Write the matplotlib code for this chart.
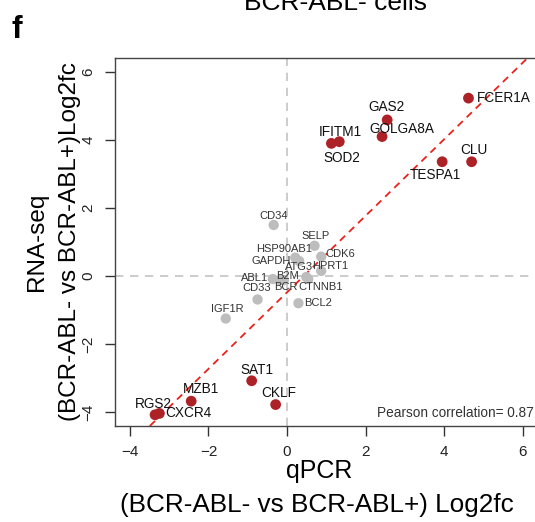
import matplotlib
matplotlib.use("Agg")
import matplotlib.pyplot as plt
import numpy as np

plt.rcParams['font.family'] = ['Liberation Sans', 'DejaVu Sans']

# ---- data ----
red_genes = ["FCER1A", "GAS2", "GOLGA8A", "IFITM1", "SOD2", "TESPA1", "CLU",
             "SAT1", "CKLF", "MZB1", "RGS2", "CXCR4"]
red_qpcr = [4.62, 2.55, 2.42, 1.33, 1.13, 3.95, 4.70, -0.90, -0.29, -2.44, -3.36, -3.25]
red_rnaseq = [5.23, 4.59, 4.10, 3.95, 3.90, 3.36, 3.36, -3.08, -3.78, -3.68, -4.08, -4.04]

grey_genes = ["CD34", "SELP", "GAPDH", "HSP90AB1", "CDK6", "HPRT1", "ATG3", "CTNNB1",
              "B2M", "BCR", "ABL1", "CD33", "IGF1R", "BCL2"]
grey_qpcr = [-0.34, 0.70, 0.21, 0.31, 0.87, 0.87, 0.49, 0.54, -0.08, -0.18, -0.36, -0.75, -1.56, 0.29]
grey_rnaseq = [1.50, 0.89, 0.54, 0.44, 0.57, 0.15, -0.03, -0.09, -0.12, -0.12, -0.09, -0.69, -1.25, -0.80]

fit_intercept = -0.48
fit_slope = 1.125
pearson_r = 0.87

x_ticks = [-4, -2, 0, 2, 4, 6]
y_ticks = [-4, -2, 0, 2, 4, 6]

# ---- label placement (offset pixels, horizontal alignment) ----
red_offsets = {
    "FCER1A": (8, 0, "left"), "GAS2": (-1, 13, "center"), "GOLGA8A": (20, 8, "center"),
    "IFITM1": (1, 10, "center"), "SOD2": (10, -15, "center"), "TESPA1": (-7, -13, "center"),
    "CLU": (2, 12, "center"), "SAT1": (5, 11, "center"), "CKLF": (3, 12, "center"),
    "MZB1": (10, 12, "center"), "RGS2": (-2, 11, "center"), "CXCR4": (6, 0, "left"),
}
grey_offsets = {
    "CD34": (0, 9, "center"), "SELP": (1, 10, "center"), "HSP90AB1": (-15, 12, "center"),
    "GAPDH": (-4, -3, "right"), "CDK6": (4, 3, "left"), "HPRT1": (9, 5, "center"),
    "ATG3": (-7, 10, "center"), "CTNNB1": (12, -8, "center"), "B2M": (4, 4, "center"),
    "BCR": (6, -7, "center"), "ABL1": (-5, 1, "right"), "CD33": (-1, 11, "center"),
    "IGF1R": (2, 10, "center"), "BCL2": (6, 0, "left"),
}

W, H = 535, 522
fig = plt.figure(figsize=(W / 100, H / 100), dpi=100)
ax = fig.add_axes([115 / W, 1 - 426 / H, 1 - 115 / W + 0.01, (426 - 58) / H])
ax.set_xlim(-4.38, 6.45)
ax.set_ylim(-4.41, 6.41)

grey_line = "#c4c4c4"
ax.axvline(0, color=grey_line, lw=1.2, ls=(0, (5, 4)), zorder=1)
ax.axhline(0, color=grey_line, lw=1.2, ls=(0, (5, 4)), zorder=1)
ax.axline((0, fit_intercept), slope=fit_slope, color="#e8231b", lw=1.3,
          ls=(0, (4, 3)), zorder=2)

ax.scatter(grey_qpcr, grey_rnaseq, s=55, color="#bdbdbd", edgecolors="none", zorder=3)
ax.scatter(red_qpcr, red_rnaseq, s=60, color="#ad2226", edgecolors="none", zorder=4)

for g, x, y in zip(grey_genes, grey_qpcr, grey_rnaseq):
    dx, dy, ha = grey_offsets[g]
    ax.annotate(g, (x, y), xytext=(dx, dy), textcoords="offset pixels",
                ha=ha, va="center", fontsize=8, color="#333333", zorder=5)
for g, x, y in zip(red_genes, red_qpcr, red_rnaseq):
    dx, dy, ha = red_offsets[g]
    ax.annotate(g, (x, y), xytext=(dx, dy), textcoords="offset pixels",
                ha=ha, va="center", fontsize=9.8, color="#111111", zorder=5)

ax.text(0.984, 0.035, f"Pearson correlation= {pearson_r}", transform=ax.transAxes,
        ha="right", va="center", fontsize=9.8, color="#333333")

ax.set_xticks(x_ticks)
ax.set_yticks(y_ticks)
ax.set_xticklabels([f"\u2212{abs(t)}" if t < 0 else str(t) for t in x_ticks], fontsize=11)
ax.set_yticklabels([f"\u2212{abs(t)}" if t < 0 else str(t) for t in y_ticks], fontsize=11,
                   rotation=90, va="center")
ax.tick_params(axis="both", length=7, width=1, color="#333333", pad=7, labelcolor="#222222")
for side in ["left", "top", "bottom"]:
    ax.spines[side].set_color("#444444")
    ax.spines[side].set_linewidth(1.0)
ax.spines["right"].set_visible(False)

fig.text(319 / W, 1 - 471 / H, "qPCR", ha="center", va="center", fontsize=18)
fig.text(317 / W, 1 - 505 / H, "(BCR-ABL- vs BCR-ABL+) Log2fc", ha="center", va="center",
         fontsize=18.8)
fig.text(37 / W, 1 - 242 / H, "RNA-seq", ha="center", va="center", fontsize=17.5, rotation=90)
fig.text(70 / W, 1 - 242 / H, "(BCR-ABL- vs BCR-ABL+)Log2fc", ha="center", va="center",
         fontsize=17.5, rotation=90)
fig.text(336 / W, 1 - 10 / H, "BCR-ABL- cells", ha="center", va="baseline", fontsize=19)
fig.text(12 / W, 1 - 38 / H, "f", ha="left", va="baseline", fontsize=23, fontweight="bold")

fig.savefig("out.png", dpi=100)
